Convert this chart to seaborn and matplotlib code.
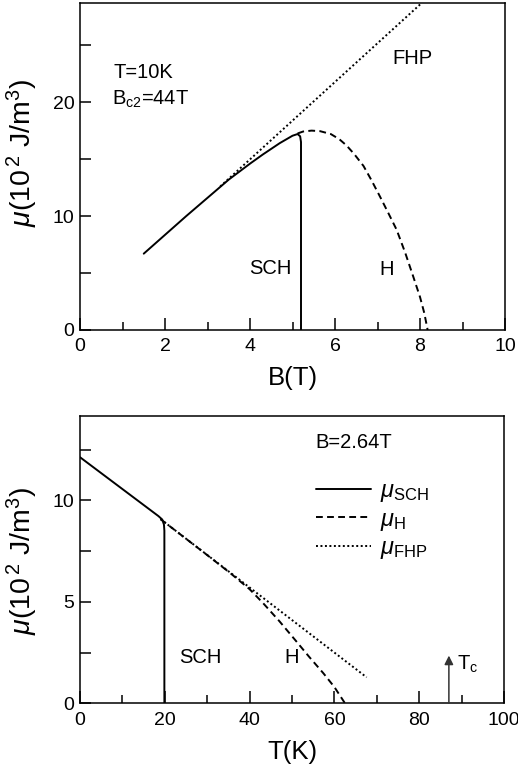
import numpy as np
import pandas as pd
import matplotlib
matplotlib.use("Agg")
import matplotlib.pyplot as plt
import seaborn as sns
from matplotlib.ticker import MultipleLocator

# ---------------- data ----------------
# Top panel: T = 10 K, mu vs B
b_sch = [1.5, 2.0, 2.5, 3.0, 3.5, 4.0, 4.3, 4.7, 5.0, 5.12, 5.18, 5.2, 5.2]
mu_b_sch = [6.7, 8.35, 10.0, 11.6, 13.2, 14.6, 15.4, 16.4, 17.05, 17.2, 17.0, 16.5, 0.0]

b_h = [5.12, 5.25, 5.45, 5.65, 5.9, 6.1, 6.27, 6.45, 6.67, 6.85, 7.06, 7.25, 7.45,
       7.65, 7.84, 8.0, 8.1, 8.18]
mu_b_h = [17.25, 17.42, 17.5, 17.45, 17.2, 16.75, 16.2, 15.45, 14.4, 13.2, 11.7, 10.3,
          8.8, 6.8, 4.7, 2.9, 1.5, 0.0]

b_fhp = [3.3, 8.04]
mu_b_fhp = [12.6, 28.7]

# Bottom panel: B = 2.64 T, mu vs T
t_sch = [0.0, 18.5, 19.4, 19.8, 19.9, 19.9]
mu_t_sch = [12.12, 9.22, 9.05, 8.8, 8.5, 0.0]

t_h = [19.0, 30.0, 35.4, 40.0, 43.2, 47.0, 51.1, 54.0, 57.4, 60.0, 62.5]
mu_t_h = [9.07, 7.3, 6.42, 5.62, 4.93, 4.05, 3.03, 2.3, 1.48, 0.8, 0.0]

t_fhp = [19.0, 67.6]
mu_t_fhp = [9.07, 1.28]

tc_value = 87.0
tc_arrow_top = 2.35

top_xticks = [0, 2, 4, 6, 8, 10]
top_yticks = [0, 10, 20]
bot_xticks = [0, 20, 40, 60, 80, 100]
bot_yticks = [0, 5, 10]

# ---------------- style ----------------
sns.set_theme(style="white")
plt.rcParams["font.family"] = ["Liberation Sans", "DejaVu Sans"]
plt.rcParams["mathtext.fontset"] = "custom"
plt.rcParams["mathtext.rm"] = "Liberation Sans"
plt.rcParams["mathtext.it"] = "Liberation Sans:italic"
plt.rcParams["mathtext.bf"] = "Liberation Sans:bold"
plt.rcParams["text.color"] = "black"
plt.rcParams["axes.labelcolor"] = "black"
plt.rcParams["xtick.color"] = "black"
plt.rcParams["ytick.color"] = "black"

W, H = 518, 772
fig = plt.figure(figsize=(W / 100, H / 100), dpi=100)
fig.patch.set_facecolor("white")

ax1 = fig.add_axes([80 / W, 1 - 330 / H, 425 / W, 327 / H])
ax2 = fig.add_axes([80 / W, 1 - 703.3 / H, 424 / W, 287.3 / H])

LW = 1.4
solid_kw = dict(color="black", linewidth=LW, linestyle="-")
dash_kw = dict(color="black", linewidth=LW, linestyle=(0, (3.5, 2.2)))
dot_kw = dict(color="black", linewidth=LW, linestyle=(0, (1, 1.3)))

def line(ax, x, y, label=None, **kw):
    df = pd.DataFrame({"x": x, "y": y})
    sns.lineplot(data=df, x="x", y="y", ax=ax, sort=False, estimator=None,
                 label=label, legend=False, **kw)

# top panel
line(ax1, b_fhp, mu_b_fhp, **dot_kw)
line(ax1, b_h, mu_b_h, **dash_kw)
line(ax1, b_sch, mu_b_sch, **solid_kw)

# bottom panel
line(ax2, t_fhp, mu_t_fhp, **dot_kw)
line(ax2, t_h, mu_t_h, **dash_kw)
line(ax2, t_sch, mu_t_sch, **solid_kw)

ax2.annotate("", xy=(tc_value, tc_arrow_top), xytext=(tc_value, 0),
             arrowprops=dict(arrowstyle="-|>", color="#333333", lw=1.1,
                             mutation_scale=13, shrinkA=0, shrinkB=0))

# axes formatting
ax1.set_xlim(0, 10)
ax1.set_ylim(0, 28.7)
ax2.set_xlim(0, 100)
ax2.set_ylim(0, 14.15)

ax1.set_xticks(top_xticks)
ax1.set_yticks(top_yticks)
ax1.xaxis.set_minor_locator(MultipleLocator(1))
ax1.yaxis.set_minor_locator(MultipleLocator(5))
ax2.set_xticks(bot_xticks)
ax2.set_yticks(bot_yticks)
ax2.xaxis.set_minor_locator(MultipleLocator(10))
ax2.yaxis.set_minor_locator(MultipleLocator(2.5))

for ax in (ax1, ax2):
    for s in ax.spines.values():
        s.set_visible(True)
        s.set_color("black")
        s.set_linewidth(1.1)
    ax.tick_params(axis="both", which="both", direction="in", color="black",
                   width=1.1, labelsize=14, labelcolor="black",
                   bottom=True, left=True, top=False, right=False)
    ax.tick_params(axis="x", which="major", length=9, pad=6)
    ax.tick_params(axis="x", which="minor", length=5.5)
    ax.tick_params(axis="y", which="major", length=8, pad=4)
    ax.tick_params(axis="y", which="minor", length=8)
    ax.grid(False)
    ax.set_facecolor("white")

ylab = r"$\mu$(10$^{\,2}$ J/m$^{3}$)"
ax1.set_xlabel("B(T)", fontsize=18.5)
ax1.set_ylabel(ylab, fontsize=20.5)
ax2.set_xlabel("T(K)", fontsize=18.5)
ax2.set_ylabel(ylab, fontsize=20.5)
ax1.xaxis.set_label_coords(0.5, -0.11)
ax2.xaxis.set_label_coords(0.5, -0.128)
ax1.yaxis.set_label_coords(-0.095, 0.54)
ax2.yaxis.set_label_coords(-0.095, 0.495)

# annotations
fs = 14.5
ax1.text(0.78, 22.6, "T=10K", fontsize=fs, va="center", ha="left")
ax1.text(0.75, 20.2, r"B$_{\mathrm{c2}}$=44T", fontsize=fs, va="center", ha="left")
ax1.text(7.36, 23.8, "FHP", fontsize=fs, va="center", ha="left")
ax1.text(4.48, 5.4, "SCH", fontsize=fs, va="center", ha="center")
ax1.text(7.21, 5.3, "H", fontsize=fs, va="center", ha="center")

ax2.text(55.4, 12.83, "B=2.64T", fontsize=fs, va="center", ha="left")
ax2.text(28.3, 2.28, "SCH", fontsize=fs, va="center", ha="center")
ax2.text(49.8, 2.28, "H", fontsize=fs, va="center", ha="center")
ax2.text(88.8, 1.9, r"T$_{\mathrm{c}}$", fontsize=fs, va="center", ha="left")

# legend
lines = ax2.get_lines()
h_dot, h_dash, h_solid = lines[0], lines[1], lines[2]
leg = ax2.legend([h_solid, h_dash, h_dot],
                 [r"$\mu_{\mathrm{SCH}}$", r"$\mu_{\mathrm{H}}$", r"$\mu_{\mathrm{FHP}}$"],
                 loc="upper left", bbox_to_anchor=(0.535, 0.81), frameon=False,
                 fontsize=17, handlelength=2.3, handletextpad=0.4,
                 labelspacing=0.2, borderaxespad=0)

fig.savefig("out.png", dpi=100, facecolor="white")
